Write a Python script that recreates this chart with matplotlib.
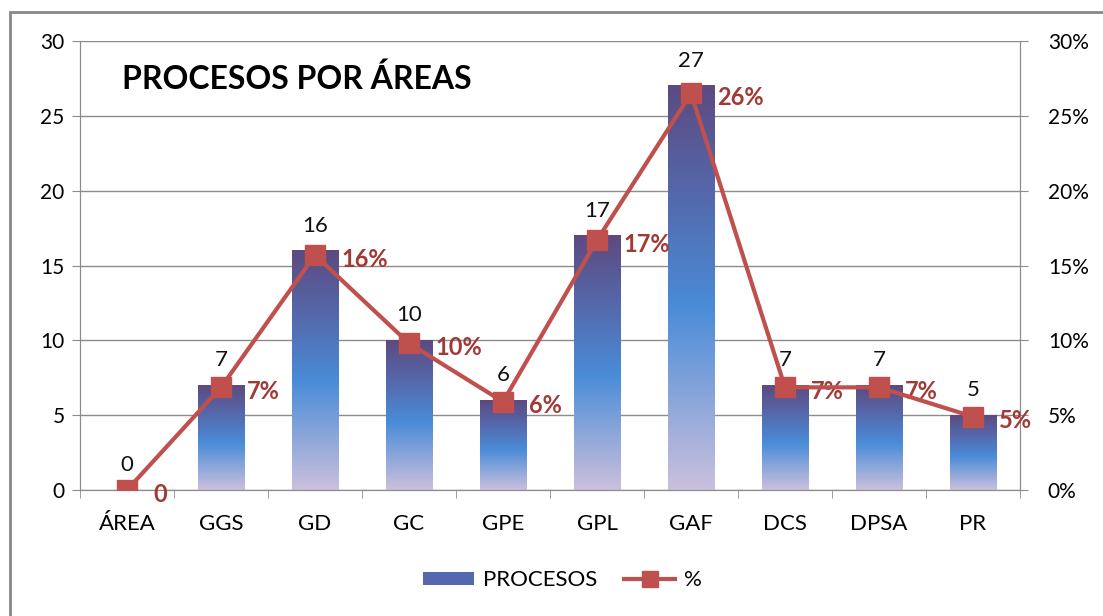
import matplotlib.pyplot as plt
import numpy as np
from matplotlib.colors import LinearSegmentedColormap
from matplotlib.patches import Patch, Rectangle
from matplotlib.lines import Line2D

plt.rcParams['font.family'] = ['Lato', 'DejaVu Sans']

areas = ['ÁREA', 'GGS', 'GD', 'GC', 'GPE', 'GPL', 'GAF', 'DCS', 'DPSA', 'PR']
procesos = [0, 7, 16, 10, 6, 17, 27, 7, 7, 5]
porcentaje = [0.0, 0.0686, 0.157, 0.098, 0.059, 0.167, 0.265, 0.0686, 0.0686, 0.049]
porc_labels = ['0', '7%', '16%', '10%', '6%', '17%', '26%', '7%', '7%', '5%']

RED = '#C0504D'
DARKRED = '#A03A37'
GRID = '#8C8C8C'

grad = LinearSegmentedColormap.from_list('bar', [
    (0.0, '#CBC0DD'), (0.45, '#4A8CD8'), (0.75, '#5566A8'), (1.0, '#5D4A80')])

fig = plt.figure(figsize=(11.03, 6.16), dpi=100)
ax = fig.add_axes([0.0725, 0.2045, 0.8523, 0.7289])
ax2 = ax.twinx()

x = np.arange(len(areas))
width = 0.49
g = np.linspace(0, 1, 256).reshape(-1, 1)
for xi, v in zip(x, procesos):
    if v > 0:
        ax.imshow(g, cmap=grad, origin='lower', aspect='auto',
                  extent=[xi - width / 2, xi + width / 2, 0, v], zorder=2)
    ax.text(xi, v + 1.0, str(v), ha='center', va='bottom', fontsize=16, color='#111111', zorder=3)

ax.set_xlim(-0.5, len(areas) - 0.5)
ax.set_ylim(0, 30)
ax.set_yticks(range(0, 31, 5))
ax.set_xticks(x)
ax.set_xticklabels(areas)
ax.set_xticks(np.arange(-0.5, len(areas), 1), minor=True)
ax.tick_params(axis='x', which='major', length=0, pad=17, labelsize=16)
ax.tick_params(axis='x', which='minor', length=6, color=GRID)
ax.tick_params(axis='y', length=6, color=GRID, labelsize=15, pad=5)
ax.grid(axis='y', color=GRID, lw=1)
ax.set_axisbelow(True)
ax.spines['top'].set_visible(False)
for s in ['left', 'bottom', 'right']:
    ax.spines[s].set_color(GRID)

ax2.plot(x, porcentaje, color=RED, lw=3, marker='s', markersize=14,
         markerfacecolor=RED, markeredgecolor=RED, zorder=5)
for xi, p, lab in zip(x, porcentaje, porc_labels):
    ax2.annotate(lab, (xi, p), xytext=(26, -4), textcoords='offset pixels',
                 ha='left', va='center', fontsize=17, fontweight='bold', color=DARKRED)
ax2.set_ylim(0, 0.30)
ax2.set_yticks(np.arange(0, 0.31, 0.05))
ax2.set_yticklabels([f'{int(round(t * 100))}%' for t in np.arange(0, 0.31, 0.05)])
ax2.tick_params(axis='y', length=6, color=GRID, labelsize=15, pad=14)
ax2.spines['top'].set_visible(False)
for s in ['left', 'bottom', 'right']:
    ax2.spines[s].set_color(GRID)

ax.text(0.045, 0.95, 'PROCESOS POR ÁREAS', transform=ax.transAxes, fontsize=23,
        fontweight='bold', ha='left', va='top', color='black')

handles = [Patch(facecolor='#5468B0', edgecolor='none'),
           Line2D([0], [0], color=RED, lw=3, marker='s', markersize=12)]
fig.legend(handles, ['PROCESOS', '%'], loc='center', bbox_to_anchor=(0.51, 0.058),
           ncol=2, frameon=False, fontsize=16, handlelength=2.3, handleheight=0.5,
           handletextpad=0.4, columnspacing=1.2)

fig.patches.append(Rectangle((10 / 1103, -0.05), 1.2, 1 - 12 / 616 + 0.05,
                             transform=fig.transFigure, fill=False,
                             edgecolor='#888888', lw=2))

fig.savefig('out.png', dpi=100)
